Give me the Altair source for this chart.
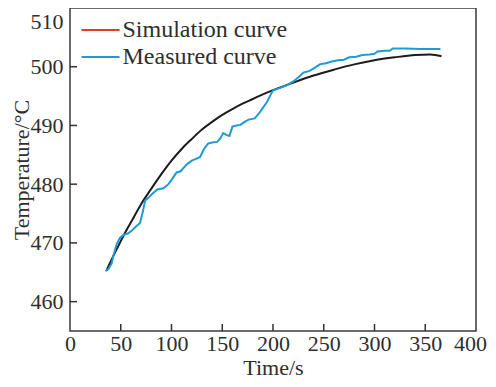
import altair as alt
import pandas as pd

# ---- data ----
sim_t = [36, 40, 45, 50, 55, 60, 70, 80, 90, 100, 110, 120, 130, 140, 150, 160, 170,
         180, 190, 200, 220, 240, 260, 280, 300, 320, 340, 355, 366]
sim_T = [465.3, 466.8, 468.6, 470.3, 472.0, 473.5, 476.6, 479.2, 481.7, 484.0, 486.0,
         487.7, 489.3, 490.6, 491.8, 492.8, 493.7, 494.5, 495.3, 496.0, 497.3, 498.5,
         499.5, 500.4, 501.1, 501.6, 502.0, 502.1, 501.8]

meas_t = [35, 38, 41, 43, 46, 49, 53, 57, 61, 65, 69, 72, 74, 78, 82, 86, 92, 97, 101,
          105, 109, 113, 116, 120, 124, 128, 132, 136, 140, 145, 148, 151, 154, 157, 160,
          164, 168, 172, 176, 182, 186, 190, 194, 197, 200, 207, 213, 220, 225, 230, 236,
          241, 246, 252, 258, 264, 270, 275, 282, 288, 295, 300, 303, 310, 315, 318, 330,
          345, 365]
meas_T = [465.2, 465.6, 466.5, 468.0, 469.8, 470.8, 471.4, 471.6, 472.1, 472.8, 473.4,
          475.5, 477.2, 477.8, 478.5, 479.1, 479.3, 480.0, 481.0, 482.0, 482.2, 483.0,
          483.5, 484.0, 484.3, 484.6, 486.0, 486.9, 487.1, 487.2, 487.8, 488.7, 488.4,
          488.2, 489.8, 490.0, 490.1, 490.6, 491.0, 491.2, 492.0, 493.0, 494.0, 495.0,
          496.0, 496.4, 496.8, 497.5, 498.2, 499.0, 499.3, 499.8, 500.4, 500.6, 500.9,
          501.1, 501.2, 501.6, 501.7, 502.0, 502.1, 502.2, 502.6, 502.7, 502.7, 503.1,
          503.1, 503.0, 503.0]

x_ticks = [0, 50, 100, 150, 200, 250, 300, 350, 400]
y_ticks = [460, 470, 480, 490, 500, 510]
series_names = ["Simulation curve", "Measured curve"]
series_colors = ["#E23B2C", "#1E9BD7"]
sim_line_color = "#1C1C1C"

W, H = 406, 323
FONT = "Liberation Serif"
TXT = "#2E2E2E"

sim_df = pd.DataFrame({"t": sim_t, "T": sim_T})
meas_df = pd.DataFrame({"t": meas_t, "T": meas_T, "series": series_names[1]})
xt_df = pd.DataFrame({"v": x_ticks[1:-1]})
yt_df = pd.DataFrame({"v": y_ticks[:-1]})

xscale = alt.Scale(domain=[0, 400], nice=False)
yscale = alt.Scale(domain=[455, 510], nice=False, zero=False)

x_axis = alt.Axis(values=x_ticks, title="Time/s", ticks=False, tickSize=0, domain=False,
                  grid=False, labelPadding=19, labelBaseline="alphabetic",
                  labelFontSize=22, labelFont=FONT,
                  labelColor=TXT, labelOverlap=False, labelFlush=False,
                  labelOffset={"condition": {"test": "datum.value == 400", "value": -6},
                               "value": 0},
                  titleFont=FONT, titleFontSize=22, titleColor=TXT,
                  titleFontWeight="normal", titleY=43.5, titleBaseline="alphabetic")
y_axis = alt.Axis(values=y_ticks, title="Temperature/°C", ticks=False, tickSize=0,
                  domain=False, grid=False, labelPadding=7, labelFontSize=22,
                  labelFont=FONT, labelColor=TXT, labelOverlap=False, labelFlush=True,
                  labelFlushOffset=-3,
                  titleFont=FONT, titleFontSize=22, titleColor=TXT,
                  titleFontWeight="normal", titleX=-37, titleBaseline="bottom")

X = lambda f: alt.X(f"{f}:Q", scale=xscale, axis=x_axis)
Y = lambda f: alt.Y(f"{f}:Q", scale=yscale, axis=y_axis)

sim = alt.Chart(sim_df).mark_line(color=sim_line_color, strokeWidth=2,
                                  interpolate="monotone").encode(x=X("t"), y=Y("T"))

meas = alt.Chart(meas_df).mark_line(strokeWidth=2).encode(
    x=X("t"), y=Y("T"),
    color=alt.Color("series:N",
                    scale=alt.Scale(domain=series_names, range=series_colors),
                    legend=alt.Legend(title=None, orient="none", legendX=18.5,
                                      legendY=10, symbolType="M-2,0L2,0",
                                      symbolSize=361, symbolStrokeWidth=2,
                                      labelFont=FONT, labelFontSize=24, labelColor=TXT,
                                      labelOffset=10, labelLimit=0, rowPadding=3,
                                      padding=0)))

xticks = alt.Chart(xt_df).mark_rule(color="#333", strokeWidth=1.5).encode(
    x=X("v"), y=alt.value(H), y2=alt.value(H - 7))
yticks = alt.Chart(yt_df).mark_rule(color="#333", strokeWidth=1.5).encode(
    y=Y("v"), x=alt.value(0), x2=alt.value(7))

chart = alt.layer(xticks, yticks, sim, meas).properties(
    width=W, height=H,
    autosize=alt.AutoSizeParams(type="none"),
    padding={"left": 62, "top": 0, "right": 12, "bottom": 48},
).configure(font=FONT).configure_axis(
    labelFont=FONT, titleFont=FONT
).configure_legend(labelFont=FONT).configure_view(stroke="#3A3A3A", strokeWidth=1.5)

chart.save("out.html", embed_options={"renderer": "svg", "actions": False})
